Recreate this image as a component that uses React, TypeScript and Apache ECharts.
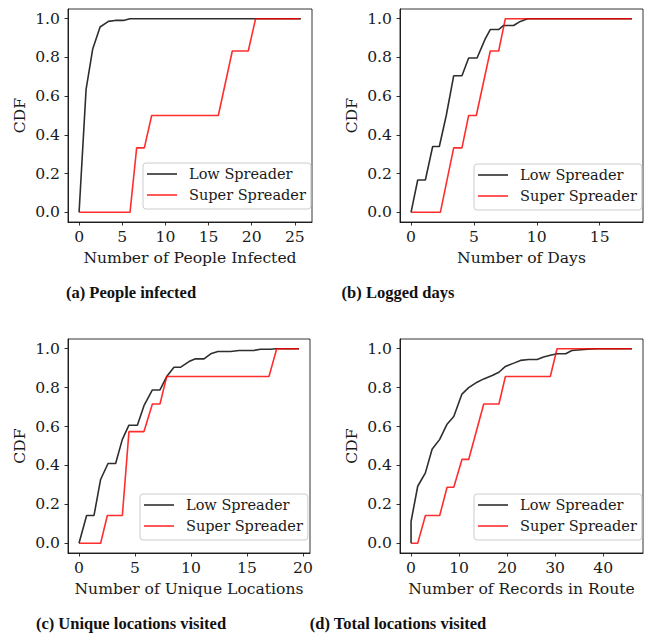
import React, { useEffect, useRef } from "react";
import * as echarts from "echarts";

// ---- Data ----
const peopleLow: number[][] = [
  [0, 0], [0.81, 0.635], [1.58, 0.844], [2.43, 0.957], [3.4, 0.986], [4.17, 0.991],
  [5.13, 0.991], [5.9, 1.0], [25.7, 1.0],
];
const peopleSuper: number[][] = [
  [0, 0], [5.9, 0], [6.67, 0.333], [7.56, 0.333], [8.41, 0.5], [16.13, 0.5],
  [17.75, 0.833], [19.6, 0.833], [20.45, 1.0], [25.6, 1.0],
];
const daysLow: number[][] = [
  [0, 0], [0.53, 0.167], [1.14, 0.167], [1.72, 0.34], [2.25, 0.34], [2.8, 0.5],
  [3.39, 0.705], [4.05, 0.705], [4.58, 0.797], [5.25, 0.797], [5.9, 0.896],
  [6.3, 0.944], [6.97, 0.944], [7.36, 0.965], [8.16, 0.965], [8.69, 0.986],
  [9.27, 1.0], [17.57, 1.0],
];
const daysSuper: number[][] = [
  [0, 0], [2.33, 0], [3.39, 0.333], [4.05, 0.333], [4.58, 0.5], [5.19, 0.5],
  [6.3, 0.833], [6.97, 0.833], [7.5, 1.0], [17.57, 1.0],
];
const uniqueLow: number[][] = [
  [0, 0], [0.68, 0.143], [1.34, 0.143], [1.93, 0.328], [2.59, 0.41], [3.27, 0.41],
  [3.87, 0.534], [4.46, 0.607], [5.21, 0.607], [5.8, 0.707], [6.55, 0.788],
  [7.23, 0.788], [7.83, 0.857], [8.48, 0.905], [9.08, 0.905], [9.82, 0.934],
  [10.4, 0.948], [11.16, 0.948], [11.76, 0.974], [12.4, 0.986], [13.54, 0.986],
  [14.29, 0.991], [15.6, 0.991], [16.2, 0.997], [17.1, 0.997], [17.56, 1.0],
  [19.64, 1.0],
];
const uniqueSuper: number[][] = [
  [0, 0], [1.93, 0], [2.53, 0.143], [3.87, 0.143], [4.46, 0.574], [5.8, 0.574],
  [6.55, 0.716], [7.23, 0.716], [7.83, 0.857], [16.96, 0.857], [17.65, 1.0],
  [19.64, 1.0],
];
const recordsLow: number[][] = [
  [0, 0], [0, 0.112], [1.39, 0.293], [2.99, 0.362], [4.38, 0.483], [5.97, 0.534],
  [7.5, 0.612], [8.9, 0.652], [10.6, 0.767], [12.0, 0.8], [13.75, 0.828],
  [15.14, 0.845], [16.9, 0.862], [18.3, 0.879], [19.65, 0.909], [21.4, 0.926],
  [22.8, 0.94], [24.5, 0.945], [26.25, 0.945], [27.6, 0.957], [29.0, 0.966],
  [30.4, 0.974], [32.2, 0.974], [33.5, 0.991], [36.7, 0.997], [38.75, 1.0],
  [46.0, 1.0],
];
const recordsSuper: number[][] = [
  [0, 0], [1.39, 0], [2.99, 0.143], [5.97, 0.143], [7.5, 0.288], [8.9, 0.288],
  [10.6, 0.431], [12.0, 0.431], [15.14, 0.716], [18.3, 0.716], [19.65, 0.857],
  [29.0, 0.857], [30.4, 1.0], [46.0, 1.0],
];

const xTicksA = [0, 5, 10, 15, 20, 25];
const xTicksB = [0, 5, 10, 15];
const xTicksC = [0, 5, 10, 15, 20];
const xTicksD = [0, 10, 20, 30, 40];
const yTicks = [0, 0.2, 0.4, 0.6, 0.8, 1.0];

const xNames = [
  "Number of People Infected",
  "Number of Days",
  "Number of Unique Locations",
  "Number of Records in Route",
];
const captions = [
  "(a) People infected",
  "(b) Logged days",
  "(c) Unique locations visited",
  "(d) Total locations visited",
];
const seriesNames = ["Low Spreader", "Super Spreader"];

// ---- Layout / style ----
const grids = [
  { left: 68, top: 9, width: 244, height: 213 },
  { left: 400, top: 9, width: 243, height: 213 },
  { left: 68, top: 339, width: 242, height: 214 },
  { left: 400, top: 339, width: 243, height: 214 },
];
const legendPos = [
  { left: 143, top: 163 },
  { left: 474, top: 164 },
  { left: 140, top: 494 },
  { left: 474, top: 494 },
];
const captionPos = [
  { x: 131, y: 292 },
  { x: 398, y: 292 },
  { x: 131, y: 623 },
  { x: 398, y: 623 },
];
const FONT = "'DejaVu Serif', serif";
const FS = 15.6;
const TEXT = "#1a1a1a";
const LOW_COLOR = "rgba(0,0,0,0.82)";
const SUPER_COLOR = "rgba(255,0,0,0.82)";

export default function App() {
  const ref = useRef<HTMLDivElement>(null);
  useEffect(() => {
    if (!ref.current) return;
    const chart = echarts.init(ref.current, undefined, { renderer: "svg" });
    const panels = [
      { low: peopleLow, sup: peopleSuper, ticks: xTicksA },
      { low: daysLow, sup: daysSuper, ticks: xTicksB },
      { low: uniqueLow, sup: uniqueSuper, ticks: xTicksC },
      { low: recordsLow, sup: recordsSuper, ticks: xTicksD },
    ];
    const xAxis = panels.map((p, i) => {
      const dMax = Math.max(...p.low.map((d) => d[0]), ...p.sup.map((d) => d[0]));
      return {
        type: "value",
        gridIndex: i,
        min: -0.05 * dMax,
        max: 1.05 * dMax,
        name: xNames[i],
        nameLocation: "middle",
        nameGap: 28,
        nameTextStyle: { fontFamily: FONT, fontSize: FS, color: TEXT },
        axisLine: { show: true, onZero: false, lineStyle: { color: "#000", width: 0.8 } },
        axisTick: {
          show: true,
          length: 3.5,
          customValues: p.ticks,
          lineStyle: { color: "#000", width: 0.8 },
        },
        axisLabel: {
          customValues: p.ticks,
          fontFamily: FONT,
          fontSize: FS,
          color: TEXT,
          margin: 7,
          formatter: (v: number) => String(v),
        },
        splitLine: { show: false },
      };
    });
    const yAxis = panels.map((_, i) => ({
      type: "value",
      gridIndex: i,
      min: -0.05,
      max: 1.05,
      name: "CDF",
      nameLocation: "middle",
      nameGap: 40,
      nameTextStyle: { fontFamily: FONT, fontSize: FS, color: TEXT },
      axisLine: { show: true, onZero: false, lineStyle: { color: "#000", width: 0.8 } },
      axisTick: {
        show: true,
        length: 3.5,
        customValues: yTicks,
        lineStyle: { color: "#000", width: 0.8 },
      },
      axisLabel: {
        customValues: yTicks,
        fontFamily: FONT,
        fontSize: FS,
        color: TEXT,
        margin: 8,
        formatter: (v: number) => v.toFixed(1),
      },
      splitLine: { show: false },
    }));
    const series: any[] = [];
    panels.forEach((p, i) => {
      series.push({
        type: "line",
        name: seriesNames[0],
        xAxisIndex: i,
        yAxisIndex: i,
        data: p.low,
        symbol: "none",
        lineStyle: { color: LOW_COLOR, width: 1.6 },
        itemStyle: { color: LOW_COLOR },
      });
      series.push({
        type: "line",
        name: seriesNames[1],
        xAxisIndex: i,
        yAxisIndex: i,
        data: p.sup,
        symbol: "none",
        lineStyle: { color: SUPER_COLOR, width: 1.6 },
        itemStyle: { color: SUPER_COLOR },
      });
    });
    const legend = legendPos.map((lp) => ({
      data: seriesNames,
      orient: "vertical",
      left: lp.left,
      top: lp.top,
      icon: "path://M0,0H30V1.6H0Z",
      itemWidth: 30,
      itemHeight: 1.6,
      itemGap: 5,
      padding: [3, 5, 6, 4],
      borderColor: "#cccccc",
      borderWidth: 1,
      borderRadius: 3,
      backgroundColor: "rgba(255,255,255,0.8)",
      selectedMode: false,
      textStyle: {
        fontFamily: FONT,
        fontSize: 14.5,
        color: TEXT,
        lineHeight: 16,
        padding: [0, 0, 0, 7],
      },
    }));
    const graphic = captions.map((c, i) => ({
      type: "text",
      x: captionPos[i].x,
      y: captionPos[i].y,
      style: {
        text: c,
        font: "bold 16.5px 'Liberation Serif', serif",
        fill: "#111",
        textAlign: "center",
        textVerticalAlign: "middle",
      },
    }));
    chart.setOption({
      animation: false,
      backgroundColor: "#fff",
      grid: grids.map((g) => ({
        ...g,
        show: true,
        borderColor: "#000",
        borderWidth: 0.8,
        backgroundColor: "transparent",
        containLabel: false,
      })),
      xAxis,
      yAxis,
      series,
      legend,
      graphic,
    });
    return () => chart.dispose();
  }, []);
  return (
    <div
      ref={ref}
      style={{ position: "fixed", left: 0, top: 0, width: 647, height: 633 }}
    />
  );
}
